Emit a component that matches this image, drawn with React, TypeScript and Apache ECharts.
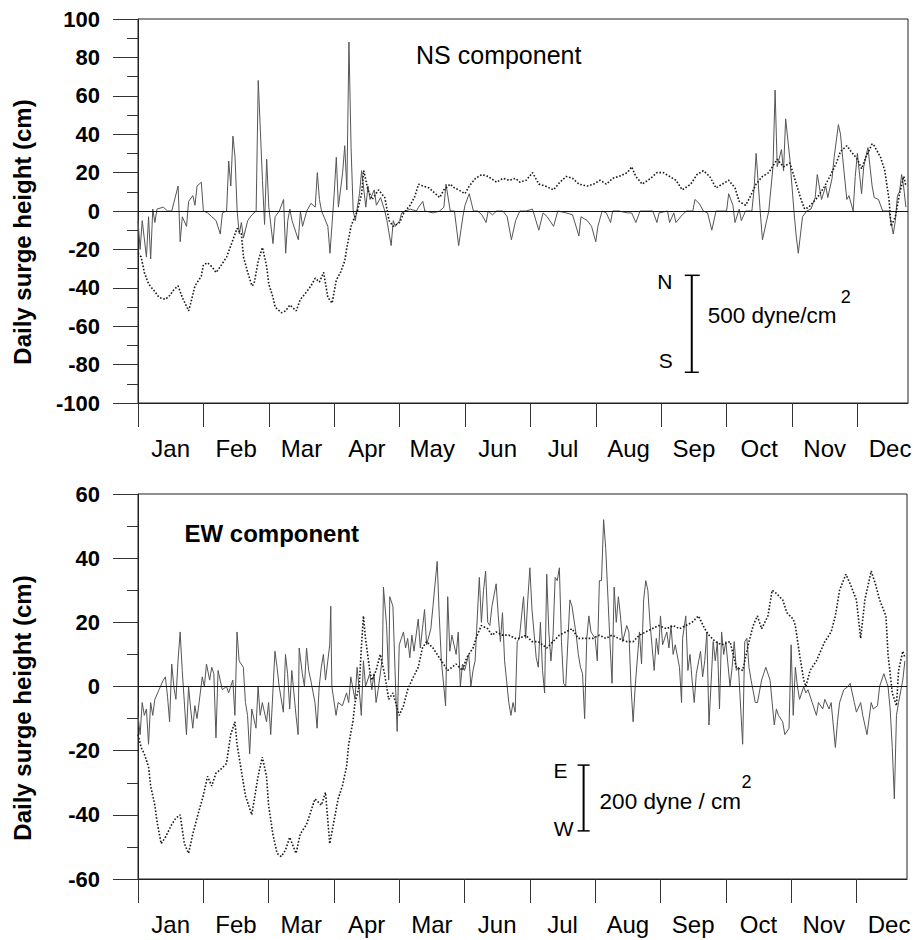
import React, { useEffect, useRef } from "react";
import * as echarts from "echarts";

// ---------- axes / labels ----------
const monthTickDays = [0, 31, 62, 93, 124, 155, 186, 217, 248, 279, 310, 341];
const monthLabelDays = [15.5, 46.5, 77.5, 108.5, 139.5, 170.5, 201.5, 232.5, 263.5, 294.5, 325.5, 356.5];
const topMonthNames = ["Jan", "Feb", "Mar", "Apr", "May", "Jun", "Jul", "Aug", "Sep", "Oct", "Nov", "Dec"];
const bottomMonthNames = ["Jan", "Feb", "Mar", "Apr", "Mar", "Jun", "Jul", "Aug", "Sep", "Oct", "Nov", "Dec"];
const topYRange = [-100, 100];
const bottomYRange = [-60, 60];
const yStep = 20;

// ---------- data: [day, value] ----------
const nsSurge: number[][] = [
  [0,-5],[1,-20],[2,-5],[4,-24],[5,-3],[6,-25],[7,1],[8,-6],[9,1],[12,2],[14,0],[16,0],[19,13],[20,-16],[21,-3],[23,-8],[24,5],[26,8],[27,3],[28,13],[30,15],[31,0],[33,-1],[35,-3],[37,-5],[39,-12],[40,-1],[42,0],[43,26],[44,13],[45,39],[46,28],[47,0],[48,-12],[49,-6],[50,-14],[52,-5],[54,-2],[56,0],[57,68],[59,16],[60,-7],[61,27],[62,2],[64,-17],[65,-3],[67,0],[69,6],[70,-22],[71,-5],[72,1],[73,-5],[76,-15],[77,0],[78,-8],[80,0],[82,4],[84,2],[85,20],[86,6],[87,0],[90,-8],[91,-22],[93,9],[94,28],[95,2],[97,20],[98,34],[99,11],[100,88],[101,33],[102,0],[103,-5],[105,9],[106,21],[108,2],[109,13],[110,6],[112,11],[113,3],[115,7],[117,0],[118,-5],[120,-18],[121,-5],[122,-8],[124,-5],[125,-1],[127,0],[129,1],[132,0],[133,2],[135,5],[136,0],[140,-1],[143,0],[145,2],[146,14],[148,0],[150,0],[152,-18],[154,-3],[155,3],[157,9],[159,0],[161,0],[163,-2],[165,-6],[166,0],[168,-2],[170,0],[173,0],[175,-3],[177,-15],[179,-5],[181,0],[184,0],[187,1],[190,-10],[192,-1],[194,-3],[197,-8],[199,0],[203,-1],[206,-2],[209,-13],[210,-3],[213,-5],[215,-8],[217,-16],[218,-8],[220,0],[222,-1],[224,-6],[225,0],[228,0],[232,-1],[234,-1],[236,-6],[238,0],[241,0],[244,0],[246,-6],[247,-1],[251,0],[252,-6],[254,-1],[255,-6],[258,-2],[260,0],[263,0],[264,6],[266,4],[268,0],[270,-1],[272,-10],[274,0],[277,0],[279,0],[280,9],[282,3],[283,-6],[285,1],[286,-5],[288,0],[291,0],[292,11],[293,30],[295,-1],[296,-15],[298,-5],[299,0],[301,23],[302,63],[303,23],[305,32],[306,21],[307,48],[309,27],[311,-1],[312,-13],[313,-22],[315,-3],[317,0],[319,1],[321,7],[322,19],[324,6],[326,13],[327,7],[329,17],[330,28],[332,45],[333,40],[334,28],[336,6],[337,8],[339,0],[340,18],[341,30],[343,9],[344,23],[346,33],[348,13],[349,7],[351,6],[353,0],[356,0],[358,-12],[359,-5],[360,8],[361,10],[362,19],[363,12],[364,2]
];

const nsStress: number[][] = [
  [0,-22],[1.5,-24],[3,-32],[5,-38],[8,-42],[10,-45],[13,-46],[15,-44],[17,-41],[19,-39],[21,-45],[24,-52],[25,-48],[27,-39],[30,-34],[31,-28],[33,-27],[35,-29],[37,-32],[39,-29],[42,-24],[45,-15],[47,-9],[49,-12],[50,-24],[52,-32],[54,-39],[55,-38],[57,-26],[59,-19],[61,-29],[62,-38],[64,-45],[65,-50],[68,-53],[70,-52],[72,-49],[75,-52],[77,-46],[80,-42],[82,-39],[84,-35],[86,-37],[88,-32],[90,-45],[92,-48],[94,-36],[96,-32],[98,-26],[99,-19],[101,-8],[102,-5],[104,0],[106,9],[107,21],[109,11],[111,6],[114,11],[117,7],[119,-5],[121,-8],[124,-6],[126,-1],[129,3],[131,7],[133,14],[135,13],[138,12],[140,10],[143,7],[145,11],[148,14],[150,12],[152,11],[155,9],[157,13],[160,17],[163,19],[166,18],[170,15],[173,17],[176,16],[179,17],[181,15],[184,16],[187,20],[190,14],[193,13],[197,11],[200,15],[203,18],[206,17],[209,14],[213,13],[216,14],[219,16],[222,14],[225,17],[228,18],[232,20],[234,23],[236,18],[239,14],[243,17],[246,20],[249,20],[252,18],[255,16],[258,11],[262,14],[265,19],[268,21],[271,18],[274,12],[277,14],[280,16],[283,12],[285,5],[288,3],[290,7],[293,14],[296,18],[299,20],[303,27],[306,23],[309,25],[311,18],[314,7],[316,1],[318,2],[322,7],[325,12],[328,18],[331,25],[333,31],[336,34],[338,31],[341,27],[343,22],[345,28],[348,35],[349,34],[352,28],[354,21],[356,6],[357,-8],[359,-3],[361,9],[363,18],[364,13]
];

const ewSurge: number[][] = [
  [0,-9],[1,-15],[2,-5],[3,-9],[4,-7],[5,-18],[6,-5],[7,-9],[8,-4],[10,-1],[12,2],[13,3],[14,-3],[15,-11],[16,7],[17,0],[18,-4],[19,8],[20,17],[21,5],[23,-15],[24,0],[25,-7],[26,-13],[27,-6],[28,-10],[29,-5],[30.5,3],[31.5,0],[32.5,7],[34,2],[35,6],[36,4],[37,-16],[38,5],[39,2],[40,-1],[42,0],[43,-2],[45,2],[46,-9],[47,17],[48,8],[50,6],[51,-5],[52,-9],[53,-21],[54,-7],[56,-13],[57,0],[58,-9],[59,-5],[61,-11],[62,-5],[63,-15],[65,11],[66,6],[67,0],[69,-8],[70,10],[71,4],[72,-7],[73,5],[75,-9],[76,-15],[76.5,12],[78,4],[79,0],[80,12],[81,5],[82,2],[84,-5],[85,-13],[86,0],[87,6],[88,10],[89,2],[91,13],[91.5,25],[92,0],[94,-9],[95,-5],[97,-6],[99,-2],[100,-5],[101,3],[103,-4],[104,6],[105,-1],[106,-9],[107,8],[108,0],[110,4],[111,-1],[112,4],[113,-5],[114,-1],[116,9],[116.5,31],[118,19],[119,2],[119.5,28],[121,25],[122,5],[123,-14],[124,13],[126,17],[127,12],[128,15],[129,9],[130,16],[131,11],[133,21],[134,12],[135,18],[136,24],[137,13],[139,18],[140,25],[142,39],[143,22],[144,8],[146,-6],[147,28],[148,11],[149,16],[151,10],[152,17],[153,0],[154,7],[155,5],[157,10],[158,0],[159,5],[160,8],[162,34],[163,20],[164,30],[165,36],[166,20],[167,19],[168,25],[170,32],[171,22],[172,14],[173,23],[174,8],[176,-5],[177,-9],[178,-5],[179,-8],[180,14],[181,15],[183,28],[184,15],[185,27],[186,37],[187,24],[189,9],[190,6],[191,20],[192,5],[193,-2],[194,35],[195,17],[196,8],[197,16],[198,34],[199,33],[200,37],[201,14],[202,1],[203,0],[205,27],[206,25],[208,16],[209,10],[210,6],[211,4],[212,-10],[213,15],[214,22],[215,17],[217,15],[218,8],[219,33],[220,33],[221,52],[222,43],[224,14],[225,1],[226,31],[227,20],[228,28],[229,22],[230,14],[232,19],[233,17],[234,0],[235,-11],[236,0],[238,17],[239,7],[240,27],[241,33],[242,30],[243,20],[245,5],[246,15],[247,10],[248,22],[249,13],[251,17],[252,12],[253,19],[254,10],[255,13],[257,6],[258,-5],[258.5,15],[260,22],[261,5],[262,10],[263,2],[264,-5],[265,4],[267,11],[268,3],[269,8],[270,17],[271,-12],[273,14],[274,8],[275,14],[276,-7],[277,17],[278,10],[279,14],[281,0],[282,6],[283,14],[284,5],[285,6],[287,-18],[288,14],[289,15],[290,6],[291,2],[293,-5],[294,-5],[296,2],[297,4],[298,6],[300,2],[301,-5],[302,-12],[303,-7],[304,-9],[306,-11],[307,-15],[309,-13],[310,13],[311,-9],[312,6],[313,0],[314,-4],[316,0],[317,-2],[318,-1],[320,-5],[322,-9],[323,-5],[325,-7],[326,-4],[328,-7],[329,-5],[331,-19],[332,-11],[333,-5],[335,-1],[337,0],[338,1],[340,-5],[341,-8],[343,-5],[344,-9],[346,-15],[348,-5],[349,-7],[351,-6],[352,0],[354,4],[356,0],[357,-7],[358,-19],[359,-35],[360,-9],[361,-5],[363,2],[364,8]
];

const ewStress: number[][] = [
  [0,-15],[1.5,-19],[3,-21],[5,-25],[6,-31],[8,-37],[9,-42],[11,-49],[13,-47],[16,-43],[18,-41],[20,-40],[22,-49],[24,-52],[26,-46],[28,-41],[31,-34],[33,-28],[35,-31],[37,-27],[39,-26],[42,-24],[44,-15],[46,-11],[47,-18],[49,-26],[51,-34],[54,-40],[55,-36],[57,-28],[59,-22],[61,-28],[62,-37],[64,-46],[66,-52],[68,-53],[70,-51],[72,-47],[75,-52],[77,-46],[80,-43],[82,-39],[84,-35],[87,-37],[89,-33],[91,-49],[93,-42],[95,-35],[97,-31],[99,-25],[100,-18],[102,-11],[103,-5],[105,0],[106,12],[107,22],[108,15],[110,5],[111,2],[113,5],[115,10],[117,4],[119,-4],[121,-2],[124,-9],[126,-6],[128,-1],[130,2],[133,6],[135,12],[137,14],[140,12],[142,10],[144,8],[147,5],[149,6],[151,7],[154,5],[156,9],[159,12],[161,16],[163,19],[166,18],[168,16],[170,17],[173,16],[176,16],[179,15],[181,15],[184,16],[187,14],[190,14],[194,12],[197,14],[200,16],[203,17],[206,18],[209,15],[213,15],[216,15],[219,16],[222,15],[225,16],[228,15],[232,14],[235,14],[238,16],[241,17],[244,18],[247,19],[251,18],[254,19],[257,18],[260,19],[263,20],[266,22],[269,18],[271,16],[274,14],[277,13],[281,14],[284,6],[287,5],[290,14],[292,19],[294,22],[296,18],[299,22],[301,30],[303,29],[306,27],[308,23],[311,21],[312,19],[314,10],[316,2],[317,0],[319,5],[322,8],[324,11],[326,14],[329,17],[331,22],[333,30],[336,35],[338,32],[341,27],[343,15],[345,27],[348,36],[350,32],[352,27],[355,22],[356,10],[358,-2],[360,-6],[361,5],[363,11],[364,9]
];

// scale-bar anchors in data coordinates [day, top, bottom]
const nsScaleBar = [262.5, -33.5, -84];
const ewScaleBar = [211.5, -24.5, -45];

const FONT = '"Liberation Sans", Arial, sans-serif';

function xAxisFor(gridIndex: number, names: string[]) {
  return {
    type: "value",
    gridIndex,
    min: 0,
    max: 365,
    interval: 31,
    axisLine: { show: true, onZero: false, lineStyle: { color: "#222", width: 1 } },
    axisTick: {
      show: true,
      inside: false,
      length: 24,
      customValues: monthTickDays,
      lineStyle: { color: "#333", width: 1 },
    },
    axisLabel: {
      show: true,
      customValues: monthLabelDays,
      formatter: (v: number) => names[Math.round((v - 15.5) / 31)] ?? "",
      margin: 33,
      fontSize: 24,
      fontFamily: FONT,
      color: "#000",
    },
    splitLine: { show: false },
  };
}

function yAxisFor(gridIndex: number, range: number[]) {
  return {
    type: "value",
    gridIndex,
    min: range[0],
    max: range[1],
    interval: yStep,
    axisLine: { show: true, onZero: false, lineStyle: { color: "#222", width: 1 } },
    axisTick: { show: true, inside: false, length: 25, lineStyle: { color: "#333", width: 1 } },
    minorTick: { show: true, splitNumber: 2, length: 11, lineStyle: { color: "#333", width: 1 } },
    axisLabel: {
      margin: 38,
      fontSize: 22,
      fontWeight: "bold",
      fontFamily: FONT,
      color: "#000",
    },
    splitLine: { show: false },
  };
}

const zeroLine = {
  silent: true,
  symbol: "none",
  label: { show: false },
  lineStyle: { color: "#111", width: 1, type: "solid" },
  data: [{ yAxis: 0 }],
};

export default function App() {
  const ref = useRef<HTMLDivElement>(null);

  useEffect(() => {
    if (!ref.current) return;
    const chart = echarts.init(ref.current, null, { renderer: "svg" });
    const option: any = {
      animation: false,
      backgroundColor: "#fff",
      grid: [
        { left: 138, top: 19, width: 770, height: 384, show: true, borderColor: "#222", borderWidth: 1, backgroundColor: "transparent" },
        { left: 138, top: 494, width: 769, height: 385, show: true, borderColor: "#222", borderWidth: 1, backgroundColor: "transparent" },
      ],
      xAxis: [xAxisFor(0, topMonthNames), xAxisFor(1, bottomMonthNames)],
      yAxis: [yAxisFor(0, topYRange), yAxisFor(1, bottomYRange)],
      series: [
        {
          type: "line", xAxisIndex: 0, yAxisIndex: 0, data: nsSurge,
          showSymbol: false, symbol: "none", clip: true,
          lineStyle: { color: "#555", width: 1 }, z: 3,
          markLine: zeroLine,
        },
        {
          type: "line", xAxisIndex: 0, yAxisIndex: 0, data: nsStress,
          showSymbol: false, symbol: "none", clip: true,
          lineStyle: { color: "#1a1a1a", width: 1.6, type: [1.6, 1.8] }, z: 4,
        },
        {
          type: "line", xAxisIndex: 1, yAxisIndex: 1, data: ewSurge,
          showSymbol: false, symbol: "none", clip: true,
          lineStyle: { color: "#555", width: 1 }, z: 3,
          markLine: zeroLine,
        },
        {
          type: "line", xAxisIndex: 1, yAxisIndex: 1, data: ewStress,
          showSymbol: false, symbol: "none", clip: true,
          lineStyle: { color: "#1a1a1a", width: 1.6, type: [1.6, 1.8] }, z: 4,
        },
      ],
    };
    chart.setOption(option);

    const px = (g: number, x: number, y: number) =>
      chart.convertToPixel({ gridIndex: g } as any, [x, y]) as number[];

    const txt = (x: number, y: number, text: string, size: number, opts: any = {}) => ({
      type: "text",
      x,
      y,
      rotation: opts.rotation ?? 0,
      z: 10,
      style: {
        text,
        fontSize: size,
        fontFamily: FONT,
        fontWeight: opts.bold ? "bold" : "normal",
        fill: "#000",
        textAlign: opts.align ?? "center",
        textVerticalAlign: "middle",
      },
    });
    const ln = (x1: number, y1: number, x2: number, y2: number, w: number) => ({
      type: "line",
      z: 10,
      shape: { x1, y1, x2, y2 },
      style: { stroke: "#000", lineWidth: w },
    });

    const [nx, nTop] = px(0, nsScaleBar[0], nsScaleBar[1]);
    const [, nBot] = px(0, nsScaleBar[0], nsScaleBar[2]);
    const [ex, eTop] = px(1, ewScaleBar[0], ewScaleBar[1]);
    const [, eBot] = px(1, ewScaleBar[0], ewScaleBar[2]);
    const nsTitle = px(0, 171, 81);
    const ewTitle = px(1, 63.5, 47.6);

    chart.setOption({
      graphic: [
        txt(22, 232, "Daily surge height (cm)", 24, { bold: true, rotation: Math.PI / 2 }),
        txt(22, 708, "Daily surge height (cm)", 24, { bold: true, rotation: Math.PI / 2 }),
        txt(nsTitle[0], nsTitle[1], "NS component", 25),
        txt(ewTitle[0], ewTitle[1], "EW component", 24, { bold: true }),
        // NS scale bar
        ln(nx, nTop, nx, nBot, 2),
        ln(nx - 7, nTop, nx + 8, nTop, 1.5),
        ln(nx - 7, nBot, nx + 7, nBot, 1.5),
        txt(nx - 27, nTop + 6, "N", 21),
        txt(nx - 26, nBot - 12, "S", 21),
        txt(nx + 16, (nTop + nBot) / 2 - 8, "500 dyne/cm", 22.5, { align: "left" }),
        txt(nx + 154, (nTop + nBot) / 2 - 27, "2", 18),
        // EW scale bar
        ln(ex, eTop, ex, eBot, 2),
        ln(ex - 6, eTop, ex + 6, eTop, 1.5),
        ln(ex - 6, eBot, ex + 6, eBot, 1.5),
        txt(ex - 23, eTop + 5, "E", 21),
        txt(ex - 20, eBot - 2, "W", 21),
        txt(ex + 16, (eTop + eBot) / 2 + 4, "200 dyne / cm", 22.5, { align: "left" }),
        txt(ex + 163, (eTop + eBot) / 2 - 16, "2", 18),
      ],
    });

    return () => chart.dispose();
  }, []);

  return (
    <div
      ref={ref}
      style={{ position: "absolute", left: 0, top: 0, width: 918, height: 940, background: "#fff" }}
    />
  );
}
